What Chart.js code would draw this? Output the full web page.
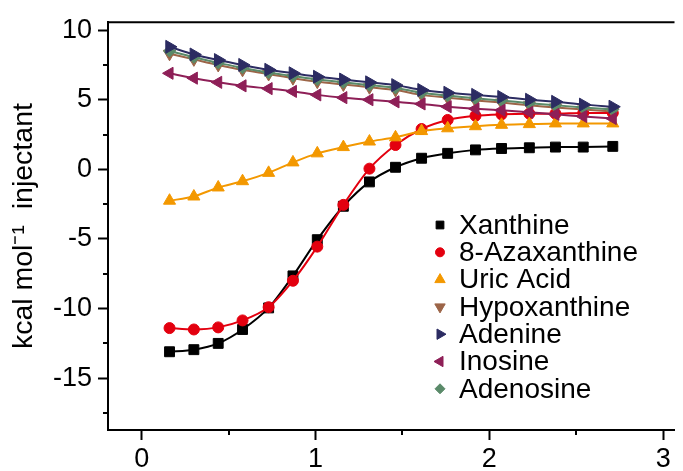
<!DOCTYPE html>
<html lang="en">
<head>
<meta charset="UTF-8">
<title>ITC binding curves</title>
<script src="https://cdn.jsdelivr.net/npm/chart.js"></script>
<style>
  html, body { margin: 0; padding: 0; background: #fff; }
  canvas { display: block; }
</style>
</head>
<body>
<canvas id="itc-chart" width="683" height="471"></canvas>
<script>
// molar ratio of each injection (same for every ligand)
const molarRatio = [0.16, 0.30, 0.44, 0.58, 0.73, 0.87, 1.01, 1.16, 1.31, 1.46, 1.61, 1.76, 1.92, 2.07, 2.23, 2.38, 2.54, 2.71];

// kcal/mol of injectant
const xanthine     = [-13.1, -12.95, -12.5, -11.5, -9.95, -7.65, -5.05, -2.65, -0.9, 0.15, 0.8, 1.15, 1.4, 1.5, 1.55, 1.6, 1.6, 1.65];
const azaxanthine  = [-11.4, -11.5, -11.35, -10.85, -9.9, -8.0, -5.55, -2.55, 0.05, 1.75, 2.9, 3.55, 3.85, 3.95, 4.0, 4.0, 4.05, 4.05];
const uricAcid     = [-2.25, -1.95, -1.3, -0.85, -0.25, 0.5, 1.15, 1.6, 2.0, 2.3, 2.75, 2.95, 3.1, 3.2, 3.25, 3.3, 3.3, 3.3];
const hypoxanthine = [8.3, 7.9, 7.5, 7.15, 6.85, 6.55, 6.3, 6.1, 5.9, 5.7, 5.35, 5.15, 4.95, 4.8, 4.6, 4.45, 4.3, 4.15];
const adenine      = [8.8, 8.25, 7.85, 7.5, 7.15, 6.9, 6.65, 6.45, 6.25, 6.05, 5.7, 5.5, 5.35, 5.2, 5.0, 4.85, 4.65, 4.5];
const inosine      = [6.9, 6.55, 6.25, 6.0, 5.8, 5.6, 5.35, 5.15, 5.0, 4.85, 4.7, 4.5, 4.35, 4.25, 4.1, 3.95, 3.8, 3.65];
const adenosine    = [8.5, 8.05, 7.65, 7.3, 6.95, 6.7, 6.45, 6.25, 6.05, 5.85, 5.5, 5.3, 5.1, 4.95, 4.75, 4.6, 4.45, 4.3];

const seriesNames = ['Xanthine', '8-Azaxanthine', 'Uric Acid', 'Hypoxanthine', 'Adenine', 'Inosine', 'Adenosine'];

const xTicks = [0, 1, 2, 3];
const xMinorTicks = [0.5, 1.5, 2.5];
const yTicks = [-15, -10, -5, 0, 5, 10];
const yMinorTicks = [-17.5, -12.5, -7.5, -2.5, 2.5, 7.5];

const FONT = '"Liberation Sans", Arial, sans-serif';

function makeSeries(label, values, color, style, radius, rotation, order) {
    return {
        label: label,
        data: values.map((v, i) => ({ x: molarRatio[i], y: v })),
        borderColor: color,
        backgroundColor: color,
        borderWidth: 2,
        tension: 0.25,
        fill: false,
        pointStyle: style,
        pointRadius: radius,
        pointRotation: rotation,
        pointBorderWidth: 1,
        pointBorderColor: color,
        pointBackgroundColor: color,
        order: order
    };
}

const datasets = [
    makeSeries(seriesNames[0], xanthine, '#000000', 'rect', 7, 0, 7),
    makeSeries(seriesNames[1], azaxanthine, '#e3000f', 'circle', 5.5, 0, 6),
    makeSeries(seriesNames[2], uricAcid, '#f39800', 'triangle', 7, 0, 5),
    makeSeries(seriesNames[3], hypoxanthine, '#9c6548', 'triangle', 7, 180, 4),
    makeSeries(seriesNames[4], adenine, '#2c2c62', 'triangle', 7.5, 90, 2),
    makeSeries(seriesNames[5], inosine, '#8e1f57', 'triangle', 7, 270, 1),
    makeSeries(seriesNames[6], adenosine, '#5a8a69', 'rectRot', 6, 0, 3)
];

// legend marker sizes (smaller than plot markers)
const legendRadius = [5.5, 4.5, 6, 6, 6, 6, 5];

// minor ticks, top frame line and the legend inside the plot
const extrasPlugin = {
    id: 'extras',
    afterDraw(chart) {
        const ctx = chart.ctx;
        const area = chart.chartArea;
        const xs = chart.scales.x, ys = chart.scales.y;
        ctx.save();
        ctx.strokeStyle = '#000';
        ctx.lineWidth = 2;
        ctx.beginPath();
        ctx.moveTo(area.left - 1, area.top);
        ctx.lineTo(area.right, area.top);
        ctx.stroke();

        ctx.beginPath();
        xMinorTicks.forEach(v => {
            const px = Math.round(xs.getPixelForValue(v));
            ctx.moveTo(px, area.bottom);
            ctx.lineTo(px, area.bottom + 5);
        });
        yMinorTicks.forEach(v => {
            const py = Math.round(ys.getPixelForValue(v));
            ctx.moveTo(area.left, py);
            ctx.lineTo(area.left - 5, py);
        });
        ctx.stroke();

        // legend
        const markerX = 440, textX = 459, firstY = 225, rowH = 27.3;
        ctx.font = '28px ' + FONT;
        ctx.textBaseline = 'middle';
        ctx.textAlign = 'left';
        chart.data.datasets.forEach((ds, i) => {
            const y = firstY + i * rowH;
            ctx.fillStyle = ds.backgroundColor;
            ctx.strokeStyle = ds.borderColor;
            ctx.lineWidth = 1;
            Chart.helpers.drawPoint(ctx, {
                pointStyle: ds.pointStyle,
                radius: legendRadius[i],
                rotation: ds.pointRotation,
                borderWidth: 1
            }, markerX, y);
            ctx.fillStyle = '#000';
            ctx.fillText(ds.label, textX, y + 1);
        });
        ctx.restore();
    }
};

new Chart(document.getElementById('itc-chart').getContext('2d'), {
    type: 'line',
    data: { datasets: datasets },
    options: {
        responsive: false,
        animation: false,
        devicePixelRatio: 1,
        layout: { padding: { top: 21, right: 0, left: 0, bottom: 0 } },
        plugins: {
            legend: { display: false },
            tooltip: { enabled: false }
        },
        scales: {
            x: {
                type: 'linear',
                min: -0.194,
                max: 3.065,
                afterBuildTicks: s => { s.ticks = xTicks.map(v => ({ value: v })); },
                afterFit: s => { s.height = 41; },
                ticks: {
                    color: '#000',
                    font: { family: FONT, size: 27 },
                    padding: 3,
                    maxRotation: 0,
                    callback: v => String(v)
                },
                grid: { drawOnChartArea: false, drawTicks: true, tickLength: 10, tickWidth: 2, tickColor: '#000' },
                border: { display: true, color: '#000', width: 2 }
            },
            y: {
                type: 'linear',
                min: -18.72,
                max: 10.57,
                afterBuildTicks: s => { s.ticks = yTicks.map(v => ({ value: v })); },
                afterFit: s => { s.width = 108; },
                ticks: {
                    color: '#000',
                    font: { family: FONT, size: 27 },
                    padding: 6,
                    callback: v => String(v)
                },
                grid: { drawOnChartArea: false, drawTicks: true, tickLength: 10, tickWidth: 2, tickColor: '#000' },
                border: { display: true, color: '#000', width: 2 },
                title: {
                    display: true,
                    text: 'kcal mol\u207B\u00B9  injectant',
                    color: '#000',
                    font: { family: FONT, size: 28.5 },
                    padding: { top: 7, bottom: 0 }
                }
            }
        }
    },
    plugins: [extrasPlugin]
});
</script>
</body>
</html>
